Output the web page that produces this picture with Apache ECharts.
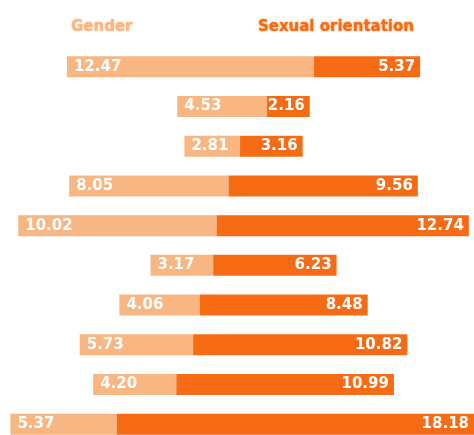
<!DOCTYPE html>
<html>
<head>
<meta charset="utf-8">
<script src="https://cdn.jsdelivr.net/npm/echarts@6/dist/echarts.min.js"></script>
<style>
  html, body { margin: 0; padding: 0; background: #fff; }
  #chart { width: 474px; height: 435px; }
</style>
</head>
<body>
<div id="chart"></div>
<script>
// one row per bar, top to bottom
var rows = ["1", "2", "3", "4", "5", "6", "7", "8", "9", "10"];
var gender = [12.47, 4.53, 2.81, 8.05, 10.02, 3.17, 4.06, 5.73, 4.20, 5.37];
var sexual = [5.37, 2.16, 3.16, 9.56, 12.74, 6.23, 8.48, 10.82, 10.99, 18.18];

var lightColor = "#F7B682";
var darkColor = "#F66B14";
var axisMax = 23.94;
var center = 12.3;

// transparent spacer so every bar is centred
var offset = gender.map(function (g, i) {
  return center - (g + sexual[i]) / 2;
});

var chart = echarts.init(document.getElementById("chart"));

chart.setOption({
  animation: false,
  title: [
    {
      text: "Gender",
      left: 66,
      top: 15,
      textStyle: {
        fontFamily: "DejaVu Sans",
        fontWeight: "bold",
        fontSize: 15,
        color: lightColor,
        textShadowColor: lightColor,
        textShadowBlur: 2,
      },
    },
    {
      text: "Sexual orientation",
      right: 55,
      top: 15,
      textStyle: {
        fontFamily: "DejaVu Sans",
        fontWeight: "bold",
        fontSize: 15,
        color: darkColor,
        textShadowColor: darkColor,
        textShadowBlur: 2,
      },
    },
  ],
  grid: {
    left: 0,
    right: 0,
    top: 47,
    bottom: -9,
    outerBoundsMode: "none",
    containLabel: false,
  },
  xAxis: {
    type: "value",
    min: 0,
    max: axisMax,
    show: false,
  },
  yAxis: {
    type: "category",
    data: rows,
    inverse: true,
    show: false,
  },
  series: [
    {
      name: "offset",
      type: "bar",
      stack: "total",
      silent: true,
      barWidth: 21,
      itemStyle: { color: "transparent" },
      data: offset,
    },
    {
      name: "Gender",
      type: "bar",
      stack: "total",
      barWidth: 21,
      itemStyle: { color: lightColor },
      label: {
        show: true,
        position: "insideLeft",
        distance: 7,
        color: "#fff",
        fontFamily: "DejaVu Sans",
        fontWeight: "bold",
        fontSize: 15,
        formatter: function (p) {
          return p.value.toFixed(2);
        },
      },
      data: gender,
    },
    {
      name: "Sexual orientation",
      type: "bar",
      stack: "total",
      barWidth: 21,
      itemStyle: { color: darkColor },
      label: {
        show: true,
        position: "insideRight",
        distance: 5,
        color: "#fff",
        fontFamily: "DejaVu Sans",
        fontWeight: "bold",
        fontSize: 15,
        formatter: function (p) {
          return p.value.toFixed(2);
        },
      },
      data: sexual,
    },
  ],
});
</script>
</body>
</html>
